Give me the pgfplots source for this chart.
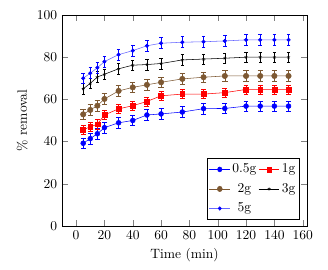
\documentclass[border=0pt]{standalone}
\usepackage{pgfplots}
\usepackage{pgfplotstable}
\pgfplotsset{compat=1.18}
\definecolor{mybrown}{RGB}{125,88,50}
\pgfplotstableread{
x y e
5 39.2 2.5
10 41.4 2.5
15 43.7 2.5
20 46.6 2.5
30 48.9 2.5
40 50.0 2.5
50 52.6 2.5
60 53.1 2.5
75 54.0 2.5
90 55.6 2.5
105 55.7 2.5
120 56.8 2.5
130 56.8 2.5
140 56.8 2.5
150 56.8 2.5
}\tA
\pgfplotstableread{
x y e
5 45.6 2.2
10 47.0 2.2
15 48.2 2.2
20 52.6 2.2
30 55.5 2.2
40 57.0 2.2
50 59.0 2.2
60 61.7 2.2
75 62.5 2.2
90 62.5 2.2
105 63.2 2.2
120 64.7 2.2
130 64.7 2.2
140 64.7 2.2
150 64.7 2.2
}\tB
\pgfplotstableread{
x y e
5 52.9 2.5
10 55.0 2.5
15 57.0 2.5
20 60.2 2.5
30 64.0 2.5
40 65.7 2.5
50 66.9 2.5
60 68.1 2.5
75 69.7 2.5
90 70.5 2.5
105 71.1 2.5
120 71.1 2.5
130 71.1 2.5
140 71.1 2.5
150 71.1 2.5
}\tC
\pgfplotstableread{
x y e
5 65.0 2.5
10 67.6 2.5
15 70.6 2.5
20 71.9 2.5
30 74.5 2.5
40 76.2 2.5
50 76.5 2.5
60 77.0 2.5
75 78.7 2.5
90 79.1 2.5
105 79.5 2.5
120 80.0 2.5
130 80.0 2.5
140 80.0 2.5
150 80.0 2.5
}\tD
\pgfplotstableread{
x y e
5 70.0 2.6
10 72.4 2.6
15 75.0 2.6
20 77.9 2.6
30 81.2 2.6
40 83.1 2.6
50 85.4 2.6
60 86.6 2.6
75 87.1 2.6
90 87.3 2.6
105 87.7 2.6
120 88.2 2.6
130 88.2 2.6
140 88.2 2.6
150 88.2 2.6
}\tE
\begin{document}
\begin{tikzpicture}
\begin{axis}[
  width=181.5pt, height=156.3pt, scale only axis,
  xmin=-10, xmax=163, ymin=0, ymax=100,
  xtick={0,20,...,160}, ytick={0,20,...,100},
  xlabel={Time (min)}, ylabel={\% removal},
  legend pos=south east,
  legend columns=2,
  legend cell align=center,
  legend style={draw=black, column sep=0pt, row sep=2.3pt, inner xsep=1.5pt,
    nodes={inner xsep=1.5pt},
    /tikz/every even column/.append style={column sep=0pt}},
  legend image post style={xscale=0.9},
  error bars/y dir=both, error bars/y explicit,
]
\addplot[blue, mark=*, mark size=1.8pt, error bars/error bar style={blue}] table[x=x,y=y,y error=e] {\tA};
\addlegendentry{0.5g}
\addplot[red, mark=square*, mark size=1.8pt, error bars/error bar style={red}] table[x=x,y=y,y error=e] {\tB};
\addlegendentry{1g}
\addplot[mybrown, mark=*, mark size=2pt, error bars/error bar style={mybrown}] table[x=x,y=y,y error=e] {\tC};
\addlegendentry{2g}
\addplot[black, mark=star, mark size=1.2pt, error bars/error bar style={black}] table[x=x,y=y,y error=e] {\tD};
\addlegendentry{3g}
\addplot[blue!60, mark=*, mark size=1.3pt, mark options={blue}, error bars/error bar style={blue}] table[x=x,y=y,y error=e] {\tE};
\addlegendentry{5g}
\end{axis}
\path (current axis.south west) ++(-45.9pt,-32.6pt);
\path (current axis.north east) ++(15.6pt,11.1pt);
\end{tikzpicture}
\end{document}
